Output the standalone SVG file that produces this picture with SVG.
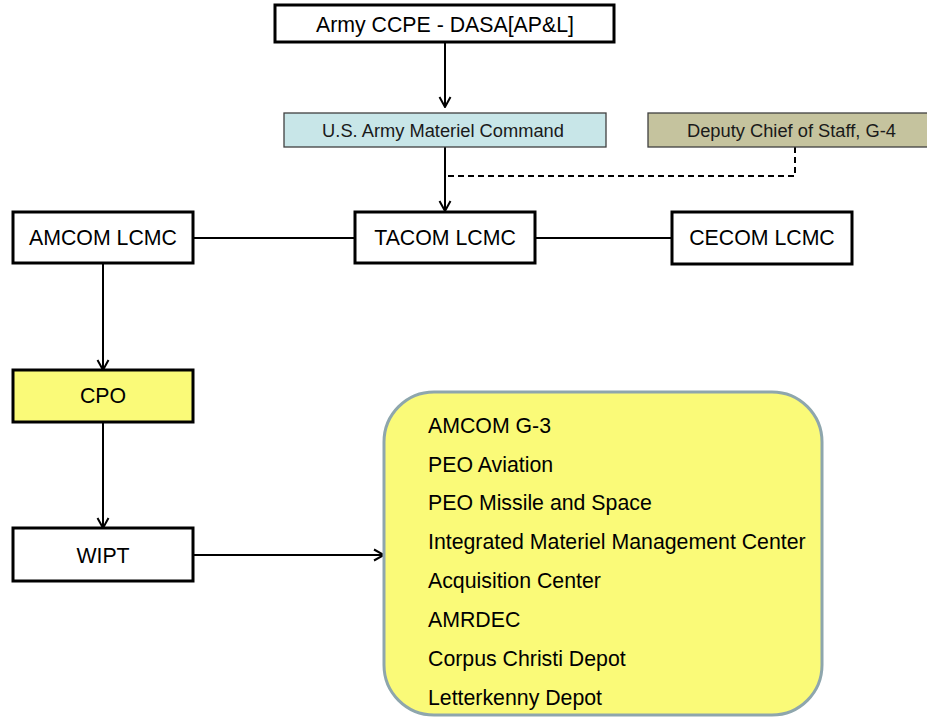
<svg xmlns="http://www.w3.org/2000/svg" width="927" height="717" viewBox="0 0 927 717">
<defs>
<style>
.box{fill:#fff;stroke:#000;stroke-width:3}
.yel{fill:#fafa78;stroke:#000;stroke-width:3}
.thin{stroke:#404040;stroke-width:1.3}
.t{font-family:"Liberation Sans",Arial,sans-serif;font-size:21.3px;fill:#000}
.s{font-family:"Liberation Sans",Arial,sans-serif;font-size:18.3px;fill:#1a1a1a}
.c{text-anchor:middle}
.ln{stroke:#000;stroke-width:2;fill:none}
.dash{stroke:#000;stroke-width:2;fill:none;stroke-dasharray:6,4}
</style>
<marker id="ah" viewBox="0 0 14 14" refX="13" refY="7" markerWidth="14" markerHeight="14" markerUnits="userSpaceOnUse" orient="auto">
<polyline points="3,1.5 13,7 3,12.5" fill="none" stroke="#000" stroke-width="2"/>
</marker>
</defs>
<rect width="927" height="717" fill="#fff"/>
<g id="connectors">
<line class="ln" x1="445" y1="42" x2="445" y2="107" marker-end="url(#ah)"/>
<line class="ln" x1="445" y1="147" x2="445" y2="211" marker-end="url(#ah)"/>
<polyline class="dash" points="795,147 795,176 445,176"/>
<line class="ln" x1="193" y1="238" x2="355" y2="238"/>
<line class="ln" x1="535" y1="238" x2="672" y2="238"/>
<line class="ln" x1="103" y1="263" x2="103" y2="370" marker-end="url(#ah)"/>
<line class="ln" x1="103" y1="422" x2="103" y2="528" marker-end="url(#ah)"/>
<line class="ln" x1="193" y1="555" x2="384" y2="555" marker-end="url(#ah)"/>
</g>
<g id="ccpe">
<rect class="box" x="275" y="5" width="339" height="37"/>
<text class="t c" x="445" y="32">Army CCPE - DASA[AP&amp;L]</text>
</g>
<g id="usamc">
<rect class="thin" x="284" y="113" width="322" height="34" fill="#c8e6e8"/>
<text class="s c" x="443" y="137">U.S. Army Materiel Command</text>
</g>
<g id="g4">
<rect class="thin" x="648" y="113" width="300" height="34" fill="#c5c39e"/>
<text class="s" x="687" y="137">Deputy Chief of Staff, G-4</text>
</g>
<g id="amcom">
<rect class="box" x="13" y="212" width="180" height="51"/>
<text class="t c" x="103" y="245">AMCOM LCMC</text>
</g>
<g id="tacom">
<rect class="box" x="355" y="212" width="180" height="51"/>
<text class="t c" x="445" y="245">TACOM LCMC</text>
</g>
<g id="cecom">
<rect class="box" x="672" y="212" width="180" height="52"/>
<text class="t c" x="762" y="245">CECOM LCMC</text>
</g>
<g id="cpo">
<rect class="yel" x="13" y="370" width="180" height="52"/>
<text class="t c" x="103" y="403">CPO</text>
</g>
<g id="wipt">
<rect class="box" x="13" y="528" width="180" height="53"/>
<text class="t c" x="103" y="563">WIPT</text>
</g>
<g id="orgs">
<rect x="384" y="392" width="438" height="323" rx="50" ry="50" fill="#fafa78" stroke="#8ea6ad" stroke-width="3"/>
<text class="t" x="428" y="433">AMCOM G-3</text>
<text class="t" x="428" y="472">PEO Aviation</text>
<text class="t" x="428" y="510">PEO Missile and Space</text>
<text class="t" x="428" y="549">Integrated Materiel Management Center</text>
<text class="t" x="428" y="588">Acquisition Center</text>
<text class="t" x="428" y="627">AMRDEC</text>
<text class="t" x="428" y="666">Corpus Christi Depot</text>
<text class="t" x="428" y="705">Letterkenny Depot</text>
</g>
</svg>
